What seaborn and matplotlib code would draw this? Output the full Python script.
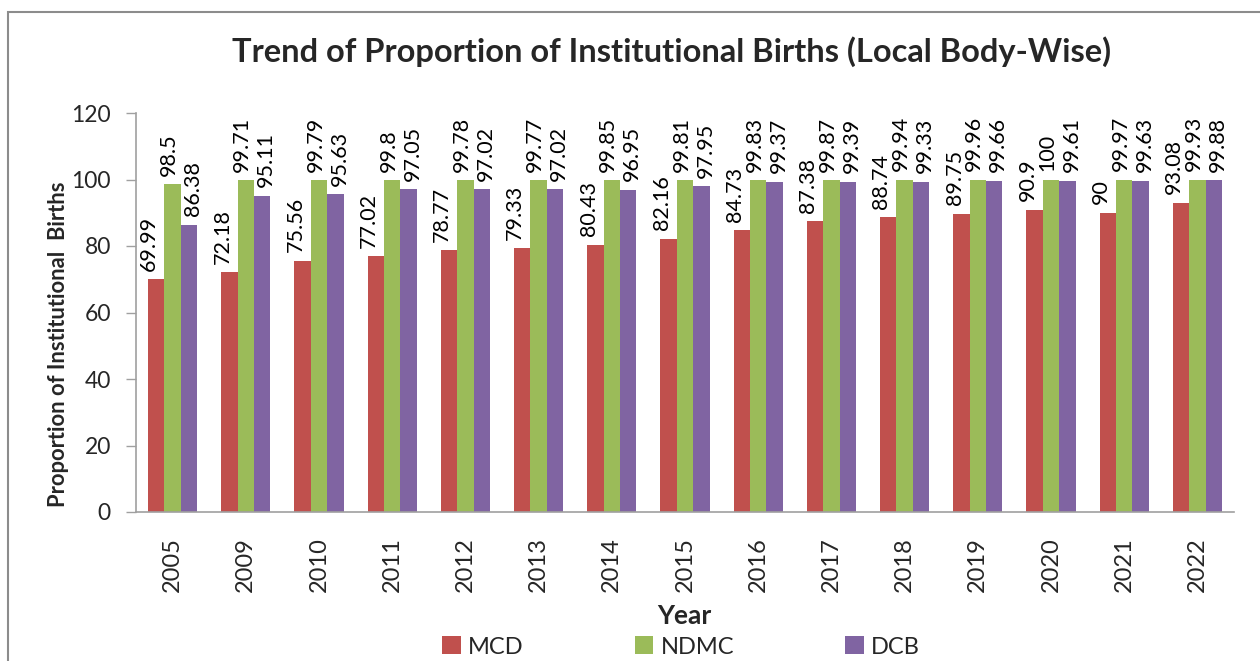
import matplotlib
matplotlib.use("Agg")
import matplotlib.pyplot as plt
import seaborn as sns
import pandas as pd
from matplotlib.patches import Rectangle, Patch

years = ["2005", "2009", "2010", "2011", "2012", "2013", "2014", "2015",
         "2016", "2017", "2018", "2019", "2020", "2021", "2022"]
mcd = [69.99, 72.18, 75.56, 77.02, 78.77, 79.33, 80.43, 82.16, 84.73,
       87.38, 88.74, 89.75, 90.9, 90, 93.08]
ndmc = [98.5, 99.71, 99.79, 99.8, 99.78, 99.77, 99.85, 99.81, 99.83,
        99.87, 99.94, 99.96, 100, 99.97, 99.93]
dcb = [86.38, 95.11, 95.63, 97.05, 97.02, 97.02, 96.95, 97.95, 99.37,
       99.39, 99.33, 99.66, 99.61, 99.63, 99.88]
series = ["MCD", "NDMC", "DCB"]
colors = ["#C0504D", "#9BBB59", "#8064A2"]

df = pd.DataFrame({
    "Year": years * 3,
    "Body": ["MCD"] * len(years) + ["NDMC"] * len(years) + ["DCB"] * len(years),
    "Value": mcd + ndmc + dcb,
})

sns.set_theme(style="white")
plt.rcParams["font.family"] = ["Lato", "DejaVu Sans"]

fig = plt.figure(figsize=(12.6, 6.61), dpi=100)
ax = fig.add_axes([136 / 1260, 1 - 512 / 661, (1234 - 136) / 1260, (512 - 113) / 661])

sns.barplot(data=df, x="Year", y="Value", hue="Body", hue_order=series,
            palette=colors, width=0.67, saturation=1, ax=ax, legend=False,
            edgecolor="none", errorbar=None)

# value labels, nudged sideways per series as in the original
label_dx = [-5, -2.5, 3]
for cont, dx in zip(ax.containers, label_dx):
    for bar in cont:
        h = bar.get_height()
        ax.annotate(f"{h:g}", xy=(bar.get_x() + bar.get_width() / 2, h),
                    xytext=(dx, 6), textcoords="offset points",
                    ha="center", va="bottom", rotation=90, fontsize=15.5,
                    color="black")

ax.set_ylim(0, 120)
ax.set_yticks(range(0, 121, 20))
ax.set_xlim(-0.5, len(years) - 0.5)
ax.tick_params(axis="y", which="both", left=True, length=7, width=1,
               color="#A0A0A0", labelsize=16.5, pad=11, direction="out")
ax.tick_params(axis="x", bottom=False, labelsize=17, pad=12)
for lab in ax.get_xticklabels():
    lab.set_rotation(90)
for s in ["top", "right"]:
    ax.spines[s].set_visible(False)
for s in ["left", "bottom"]:
    ax.spines[s].set_color("#A0A0A0")
    ax.spines[s].set_linewidth(1.2)

ax.set_ylabel("Proportion of Institutional  Births", fontsize=15.8, fontweight="bold")
ax.yaxis.set_label_coords(-0.061, 0.42)
ax.set_xlabel("")

fig.text(684 / 1260, 1 - 616 / 661, "Year", ha="center", va="center",
         fontsize=19, fontweight="bold")
fig.text(672 / 1260, 1 - 52 / 661,
         "Trend of Proportion of Institutional Births (Local Body-Wise)",
         ha="center", va="center", fontsize=23.5, fontweight="bold")

handles = [Patch(facecolor=c, edgecolor="none") for c in colors]
fig.legend(handles, series, loc="center", bbox_to_anchor=(681 / 1260, 1 - 647 / 661),
           ncol=3, frameon=False, fontsize=17, handlelength=0.8, handleheight=0.8,
           handletextpad=0.3, columnspacing=4.7, borderpad=0, borderaxespad=0)

fig.patches.append(Rectangle((8 / 1260, -0.05), 1.1, 1 - 12 / 661 + 0.05,
                             transform=fig.transFigure, fill=False,
                             edgecolor="#8C8C8C", linewidth=1.5))

fig.savefig("out.png", dpi=100)
